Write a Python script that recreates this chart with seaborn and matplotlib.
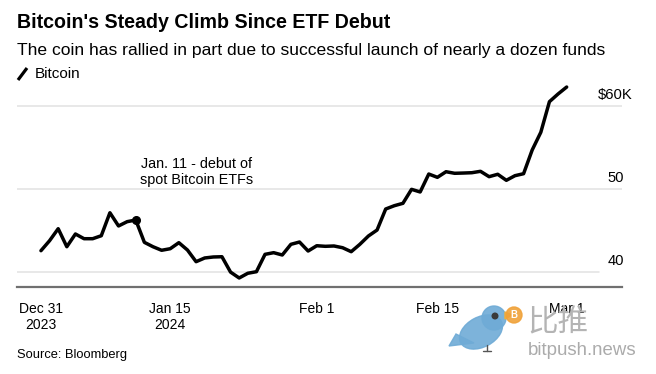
import matplotlib
matplotlib.use("Agg")
import matplotlib.pyplot as plt
from matplotlib.patches import Ellipse, Circle, Polygon
import seaborn as sns
import pandas as pd

# Bitcoin close, thousands of USD, daily Dec 31 2023 -> Mar 1 2024
dates = pd.date_range("2023-12-31", "2024-03-01", freq="D")
price_k = [
    42.54, 43.75, 45.20, 43.02, 44.56, 43.99, 43.99, 44.35, 47.13, 45.53,
    46.05, 46.25, 43.55, 43.02, 42.59, 42.78, 43.51, 42.62, 41.21, 41.66,
    41.78, 41.81, 39.95, 39.24, 39.81, 40.00, 42.10, 42.30, 42.02, 43.31,
    43.59, 42.50, 43.14, 43.07, 43.11, 42.90, 42.42, 43.31, 44.32, 45.04,
    47.58, 47.98, 48.27, 49.96, 49.64, 51.81, 51.41, 52.09, 51.90, 51.93,
    51.97, 52.14, 51.49, 51.78, 51.05, 51.61, 51.85, 54.72, 56.86, 60.56,
    61.49, 62.33,
]
etf_debut = pd.Timestamp("2024-01-11")

tick_dates = pd.to_datetime(["2023-12-31", "2024-01-15", "2024-02-01", "2024-02-15", "2024-03-01"])
tick_labels = ["Dec 31\n2023", "Jan 15\n2024", "Feb 1", "Feb 15", "Mar 1"]
y_levels = [40, 50, 60]
y_labels = ["40", "50", "\\$60K"]

df = pd.DataFrame({"date": dates, "price": price_k})

sns.set_style("white")
plt.rcParams["font.family"] = ["Liberation Sans", "DejaVu Sans"]
plt.rcParams["text.color"] = "black"

W, H = 656, 374
fig = plt.figure(figsize=(W / 100, H / 100), dpi=100)

# main chart area (pixel box converted to figure fractions)
ax = fig.add_axes([17 / W, 1 - 287 / H, 605 / W, 206 / H])

for lvl in y_levels:
    xmax = 0.962 if lvl == y_levels[0] else 1.0
    ax.axhline(lvl, xmax=xmax, color="#e2e2e2", lw=1.1, zorder=0)

sns.lineplot(data=df, x="date", y="price", color="black", linewidth=2.5, ax=ax, zorder=3)
debut_price = df.loc[df["date"] == etf_debut, "price"].iloc[0]
ax.plot([etf_debut], [debut_price], "o", color="black", markersize=5.5, zorder=4)

ax.annotate("Jan. 11 - debut of\nspot Bitcoin ETFs", xy=(etf_debut, debut_price),
            xytext=(61, 48), textcoords="offset pixels", ha="center", va="center",
            multialignment="center", fontsize=10.4, color="black", linespacing=1.2)

# value labels sit above their gridlines; "$" and "K" hang around the digits
for lvl, lab in zip(y_levels, y_labels):
    if lab.startswith("\\$"):
        xoff, ha = -24, "left"
    else:
        xoff, ha = 2, "right"
    ax.annotate(lab, xy=(1, lvl), xycoords=("axes fraction", "data"),
                xytext=(xoff, 7), textcoords="offset pixels",
                ha=ha, va="baseline", fontsize=10.6, color="black",
                annotation_clip=False)

ax.set_xlim(dates[0] - pd.Timedelta(days=2.78), dates[-1] + pd.Timedelta(days=6.42))
ax.set_ylim(38.15, 63.06)
ax.set_xticks(tick_dates)
ax.set_xticklabels(tick_labels)
ax.set_yticks([])
ax.set_xlabel("")
ax.set_ylabel("")
for side in ["top", "right", "left"]:
    ax.spines[side].set_visible(False)
ax.spines["bottom"].set_color("#707070")
ax.spines["bottom"].set_linewidth(1.6)
ax.tick_params(axis="x", direction="out", length=5, width=1.4, color="#707070",
               labelsize=10, labelcolor="black", pad=6)

# overlay in pixel coordinates for headline texts, legend and watermark
ov = fig.add_axes([0, 0, 1, 1], zorder=5)
ov.set_xlim(0, W)
ov.set_ylim(H, 0)
ov.axis("off")

ov.text(17, 28, "Bitcoin's Steady Climb Since ETF Debut", fontsize=14.1,
        fontweight="bold", va="baseline", ha="left")
ov.text(17, 55, "The coin has rallied in part due to successful launch of nearly a dozen funds",
        fontsize=12.6, va="baseline", ha="left")
ov.plot([18, 27], [80, 68], color="black", lw=2.3, solid_capstyle="butt")
ov.text(35, 78, "Bitcoin", fontsize=11, va="baseline", ha="left")
ov.text(17, 358, "Source: Bloomberg", fontsize=9.3, va="baseline", ha="left")

# bitpush watermark
bird = "#6fabd6"
ov.add_patch(Polygon([[456, 334], [449, 346], [474, 343]], closed=True, color=bird, alpha=0.9))
ov.add_patch(Ellipse((481, 332), 46, 30, angle=-28, color=bird, alpha=0.9))
ov.add_patch(Circle((494, 318), 12, color=bird, alpha=0.9))
ov.add_patch(Circle((495, 316), 2.8, color="#3a3a3a"))
ov.add_patch(Polygon([[505, 312], [512, 315], [505, 319]], closed=True, color="#f2b13a"))
ov.plot([487, 487], [345, 351], color="#555555", lw=1)
ov.plot([483, 491], [351, 351], color="#555555", lw=1)
ov.add_patch(Circle((514, 315), 8, color="#f0a23a", alpha=0.9))
ov.text(514, 315.5, "B", fontsize=7, color="white", fontweight="bold", ha="center", va="center")
ov.text(527, 331, "比推", fontsize=22, color="#b4b4b4", ha="left", va="baseline",
        family=["Noto Sans CJK SC", "DejaVu Sans"])
ov.text(528, 355, "bitpush.news", fontsize=13.4, color="#ababab", ha="left", va="baseline")

fig.savefig("out.png", dpi=100)
